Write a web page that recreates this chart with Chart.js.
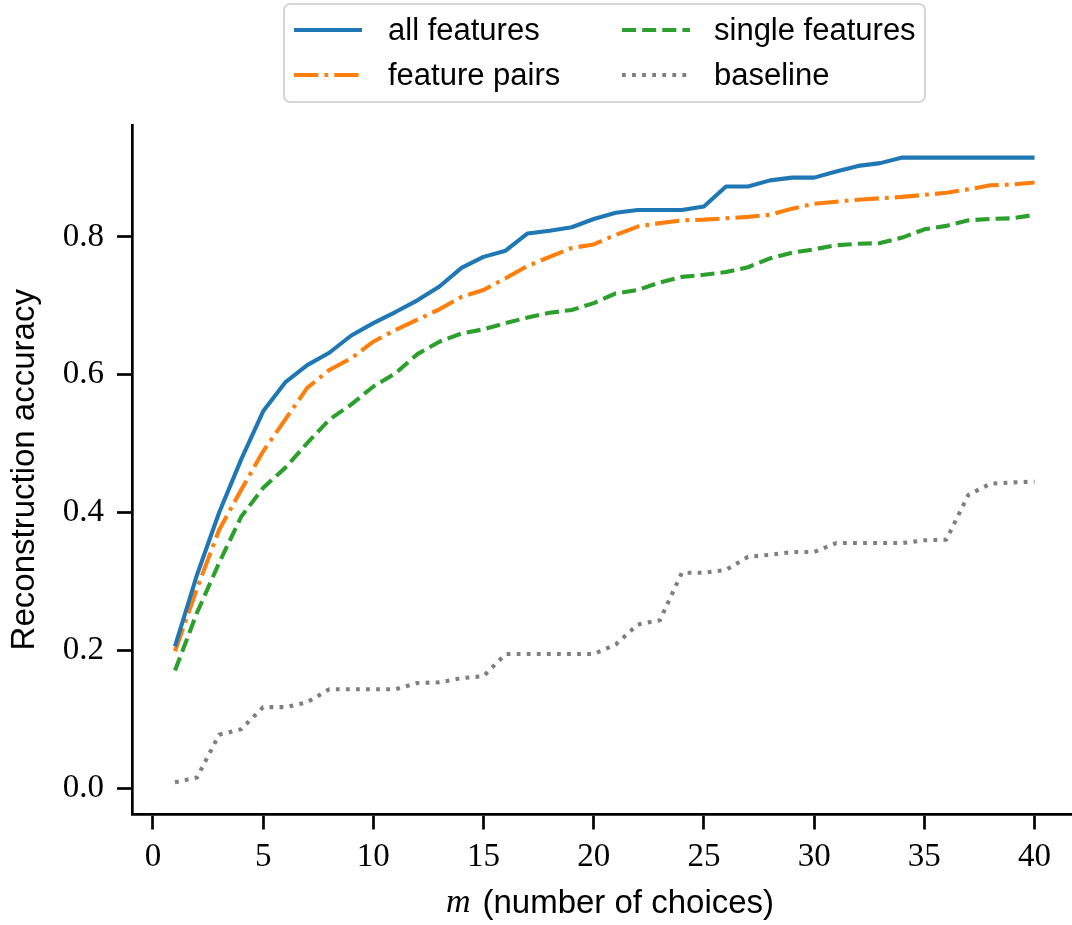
<!DOCTYPE html>
<html>
<head>
<meta charset="utf-8">
<script src="https://cdn.jsdelivr.net/npm/chart.js@4/dist/chart.umd.min.js"></script>
<style>
  html, body { margin: 0; padding: 0; background: #fff; }
  #wrap { width: 1072px; height: 925px; position: relative; }
</style>
</head>
<body>
<div id="wrap"><canvas id="c"></canvas></div>
<script>
const choices = [1,2,3,4,5,6,7,8,9,10,11,12,13,14,15,16,17,18,19,20,21,22,23,24,25,26,27,28,29,30,31,32,33,34,35,36,37,38,39,40];

const allFeatures = [0.206,0.310,0.400,0.477,0.547,0.589,0.614,0.632,0.657,0.675,
  0.691,0.708,0.728,0.755,0.771,0.780,0.805,0.809,0.814,0.826,
  0.835,0.839,0.839,0.839,0.844,0.873,0.873,0.882,0.886,0.886,
  0.895,0.903,0.907,0.915,0.915,0.915,0.915,0.915,0.915,0.915];

const featurePairs = [0.199,0.290,0.375,0.433,0.489,0.535,0.581,0.607,0.624,0.648,
  0.665,0.680,0.695,0.713,0.723,0.740,0.758,0.771,0.784,0.789,
  0.803,0.815,0.820,0.824,0.825,0.827,0.829,0.832,0.841,0.848,
  0.851,0.854,0.856,0.858,0.861,0.864,0.869,0.875,0.876,0.879];

const singleFeatures = [0.171,0.255,0.327,0.394,0.436,0.465,0.501,0.535,0.557,0.583,
  0.602,0.630,0.648,0.660,0.666,0.675,0.683,0.690,0.694,0.704,
  0.718,0.723,0.734,0.742,0.745,0.749,0.756,0.769,0.777,0.782,
  0.788,0.790,0.791,0.799,0.811,0.816,0.824,0.826,0.827,0.832];

const baseline = [0.009,0.016,0.078,0.086,0.118,0.118,0.125,0.144,0.144,0.144,
  0.144,0.153,0.154,0.160,0.163,0.195,0.195,0.195,0.195,0.195,
  0.209,0.238,0.244,0.313,0.313,0.317,0.336,0.339,0.343,0.343,
  0.356,0.356,0.356,0.356,0.360,0.361,0.426,0.442,0.444,0.445];

const xTicks = [0,5,10,15,20,25,30,35,40];
const yTicks = [0.0,0.2,0.4,0.6,0.8];

const seriesNames = ['all features','feature pairs','single features','baseline'];
const xTitleMath = 'm';
const xTitleText = '(number of choices)';
const yTitle = 'Reconstruction accuracy';

const LW = 4.1;
const D = 3.8;
const styles = [
  { color: '#1f77b4', dash: [] },
  { color: '#ff7f0e', dash: [6.4*D, 1.6*D, 1*D, 1.6*D] },
  { color: '#2ca02c', dash: [3.7*D, 1.6*D] },
  { color: '#7f7f7f', dash: [1*D, 1.65*D] }
];

const seriesValues = [allFeatures, featurePairs, singleFeatures, baseline];

const datasets = seriesValues.map((vals, i) => ({
  label: seriesNames[i],
  data: choices.map((m, j) => ({ x: m, y: vals[j] })),
  borderColor: styles[i].color,
  backgroundColor: styles[i].color,
  borderWidth: LW,
  borderDash: styles[i].dash,
  borderCapStyle: 'butt',
  borderJoinStyle: 'round',
  pointRadius: 0,
  tension: 0,
  fill: false
}));

const SANS = "'Liberation Sans', Arial, sans-serif";
const SERIF = "'Liberation Serif', 'Times New Roman', serif";

const legendPlugin = {
  id: 'customLegend',
  afterDraw(chart) {
    const ctx = chart.ctx;
    ctx.save();
    const bx = 284, by = 4, bw = 641, bh = 98, r = 6;
    ctx.beginPath();
    ctx.moveTo(bx + r, by);
    ctx.lineTo(bx + bw - r, by);
    ctx.arcTo(bx + bw, by, bx + bw, by + r, r);
    ctx.lineTo(bx + bw, by + bh - r);
    ctx.arcTo(bx + bw, by + bh, bx + bw - r, by + bh, r);
    ctx.lineTo(bx + r, by + bh);
    ctx.arcTo(bx, by + bh, bx, by + bh - r, r);
    ctx.lineTo(bx, by + r);
    ctx.arcTo(bx, by, bx + r, by, r);
    ctx.closePath();
    ctx.fillStyle = 'rgba(255,255,255,0.8)';
    ctx.fill();
    ctx.lineWidth = 2;
    ctx.strokeStyle = '#d6d6d6';
    ctx.stroke();

    const cols = [{ lx0: 294, lx1: 362, tx: 388 }, { lx0: 622, lx1: 690, tx: 714 }];
    const rows = [30, 75];
    const order = [[0,0,0],[1,0,1],[2,1,0],[3,1,1]];
    ctx.font = '31px ' + SANS;
    ctx.textBaseline = 'middle';
    ctx.textAlign = 'left';
    order.forEach(([i, c, rI]) => {
      const col = cols[c], y = rows[rI];
      ctx.beginPath();
      ctx.setLineDash(styles[i].dash);
      ctx.lineDashOffset = 0;
      ctx.lineCap = 'butt';
      ctx.lineWidth = LW;
      ctx.strokeStyle = styles[i].color;
      ctx.moveTo(col.lx0, y);
      ctx.lineTo(col.lx1, y);
      ctx.stroke();
      ctx.setLineDash([]);
      ctx.fillStyle = '#000';
      ctx.fillText(seriesNames[i], col.tx, y + 1);
    });

    const cx = 610, cy = 902;
    ctx.font = 'italic 34px ' + SERIF;
    const wm = ctx.measureText(xTitleMath).width;
    ctx.font = '33px ' + SANS;
    const wt = ctx.measureText(xTitleText).width;
    const gap = 12;
    const total = wm + gap + wt;
    let x0 = cx - total / 2;
    ctx.fillStyle = '#000';
    ctx.textBaseline = 'alphabetic';
    ctx.font = 'italic 34px ' + SERIF;
    ctx.fillText(xTitleMath, x0, cy + 10);
    ctx.font = '33px ' + SANS;
    ctx.fillText(xTitleText, x0 + wm + gap, cy + 11);
    ctx.restore();
  }
};

const axisCommon = {
  grid: { drawOnChartArea: false, drawTicks: true, tickLength: 15, tickWidth: 2.7, tickColor: '#000' },
  border: { display: true, color: '#000', width: 2.7 }
};

new Chart(document.getElementById('c'), {
  type: 'line',
  data: { datasets },
  options: {
    responsive: true,
    maintainAspectRatio: false,
    animation: false,
    layout: { padding: { top: 125, right: 0, bottom: 0, left: 0 } },
    plugins: {
      legend: { display: false },
      title: { display: false },
      tooltip: { enabled: false }
    },
    scales: {
      x: {
        type: 'linear',
        min: -0.95,
        max: 41.7,
        ...axisCommon,
        afterBuildTicks: (s) => { s.ticks = xTicks.map(v => ({ value: v })); },
        afterFit: (s) => { s.height = 110.5; },
        ticks: {
          color: '#000',
          font: { family: SERIF, size: 33 },
          padding: 8,
          maxRotation: 0,
          autoSkip: false,
          callback: (v) => String(v)
        }
      },
      y: {
        type: 'linear',
        min: -0.0377,
        max: 0.9623,
        ...axisCommon,
        afterBuildTicks: (s) => { s.ticks = yTicks.map(v => ({ value: v })); },
        afterFit: (s) => { s.width = 132; },
        ticks: {
          color: '#000',
          font: { family: SERIF, size: 33 },
          padding: 13,
          autoSkip: false,
          callback: (v) => Number(v).toFixed(1)
        },
        title: {
          display: true,
          text: yTitle,
          color: '#000',
          font: { family: SANS, size: 33 },
          padding: { top: 5, bottom: 0 }
        }
      }
    }
  },
  plugins: [legendPlugin]
});
</script>
</body>
</html>
